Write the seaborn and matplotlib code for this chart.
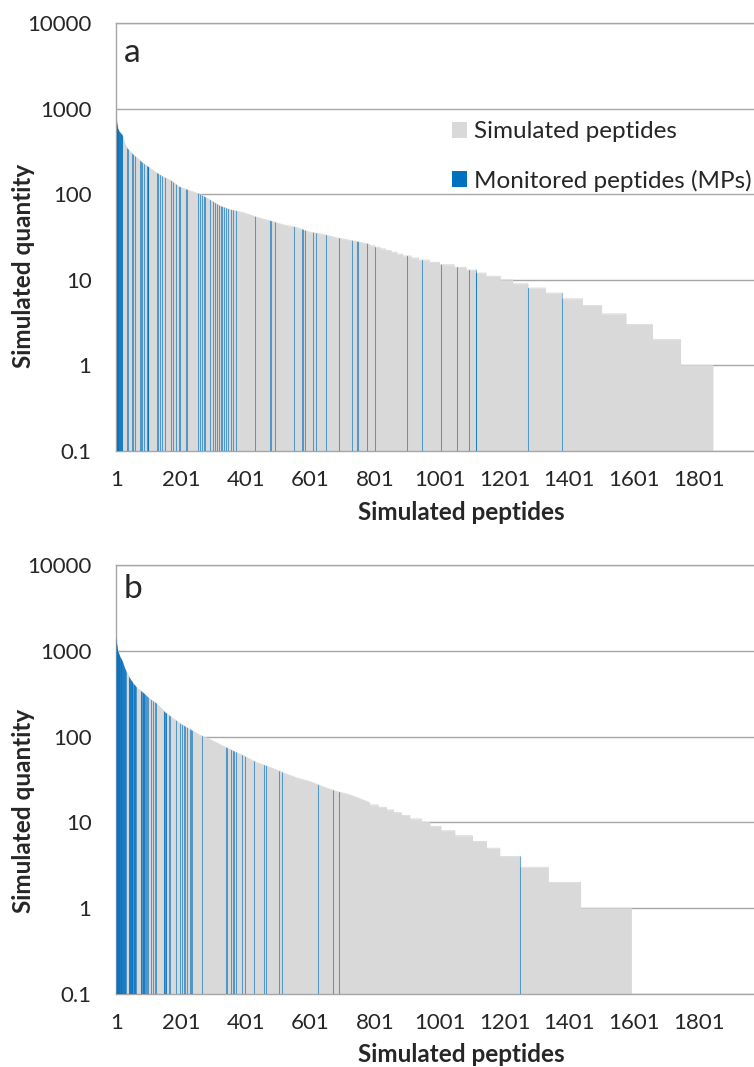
# ranked simulated peptide quantities with monitored peptides highlighted (panels a and b)

import numpy as np
import matplotlib
matplotlib.use("Agg")
import matplotlib.pyplot as plt
from matplotlib.patches import Patch
import seaborn as sns

sns.set_style("white")
plt.rcParams['font.family'] = ['Lato', 'DejaVu Sans']

# DATA (rank, simulated quantity)
# panel a: smooth upper part of the curve
a_curve_rank = [1, 6, 11, 20, 27, 34, 47, 63, 84, 99, 125, 145, 171, 197, 228, 259, 290,
                321, 352, 393, 434, 475, 516, 558, 599, 640, 681, 722, 764, 784]
a_curve_qty = [766, 585, 535, 490, 392, 348, 305, 269, 229, 209, 178, 160, 143, 121, 110, 100, 86,
               73, 66, 61, 54, 49, 44, 41, 36, 34, 31, 29, 27, 26]
# panel a: integer plateaus in the tail (first rank of each plateau)
a_step_qty = [25, 24, 23, 22, 21, 20, 19, 18, 17, 16, 15, 14, 13, 12, 11, 10, 9, 8, 7, 6, 5, 4, 3, 2, 1]
a_step_start = [784, 800, 816, 833, 850, 868, 886, 912, 935, 968, 1000, 1045, 1082, 1114, 1143,
                1188, 1226, 1273, 1327, 1380, 1442, 1501, 1576, 1658, 1745]
a_last = 1845
# panel a: ranks of monitored peptides
a_mp = [2, 3, 4, 5, 6, 7, 9, 10, 12, 13, 15, 16, 18, 19, 34, 37, 49, 53, 58, 73, 76, 80, 87, 96, 98,
        99, 100, 127, 130, 135, 142, 153, 171, 176, 184, 195, 198, 215, 220, 253, 259, 265, 271, 275,
        291, 299, 305, 312, 317, 324, 329, 334, 341, 346, 356, 362, 370, 431, 476, 480, 492, 550, 574,
        578, 585, 609, 617, 648, 690, 731, 745, 749, 777, 802, 899, 946, 1006, 1055, 1091, 1113, 1114,
        1274, 1379]

# panel b
b_curve_rank = [1, 3, 6, 12, 20, 27, 34, 42, 54, 68, 84, 104, 125, 151, 177, 202, 228, 259, 290,
                321, 352, 393, 434, 475, 516, 558, 599, 640, 681, 722, 760, 784]
b_curve_qty = [1480, 1200, 1000, 865, 757, 635, 555, 485, 413, 361, 324, 276, 244, 193, 162, 139, 122,
               104, 93, 81, 71, 60, 50, 44, 38, 33, 30, 26, 23, 21, 18.5, 17]
b_step_qty = [16, 15, 14, 13, 12, 11, 10, 9, 8, 7, 6, 5, 4, 3, 2, 1]
b_step_start = [784, 810, 836, 858, 882, 908, 944, 970, 1004, 1047, 1102, 1145, 1186, 1251, 1336, 1436]
b_last = 1593
b_mp = [1, 2, 3, 4, 5, 6, 7, 8, 9, 10, 11, 12, 14, 15, 16, 18, 19, 21, 22, 24, 25, 27, 28, 30,
        40, 41, 42, 44, 45, 47, 48, 50, 51, 53, 55, 56, 58, 60, 61,
        76, 78, 80, 82, 84, 86, 88, 90, 93, 96, 99,
        107, 113, 121, 125, 147, 149, 152, 154, 156, 164, 168, 184, 198, 203, 209, 213, 218, 228, 231,
        234, 266, 339, 343, 357, 362, 365, 370, 390, 398, 427, 459, 465, 503, 513, 624, 670, 688, 1250]

x_ticks = [1, 201, 401, 601, 801, 1001, 1201, 1401, 1601, 1801]
y_ticks = [0.1, 1, 10, 100, 1000, 10000]
y_tick_labels = ['0.1', '1', '10', '100', '1000', '10000']

GRAY = '#D9D9D9'
BLUE = '#0070C0'
AXIS_GRAY = '#A6A6A6'
FS = 16
FS_LABEL = 17.5

W, H = 754, 1067
def fx(px): return px / W
def fy(py): return 1 - py / H


def outline(curve_rank, curve_qty, step_start, step_qty, last):
    # plateau corners (start, end) for each integer level
    ends = list(step_start[1:]) + [last]
    sx = np.column_stack([step_start, ends]).ravel()
    sy = np.repeat(step_qty, 2)
    return np.concatenate([curve_rank, sx]), np.concatenate([curve_qty, sy]).astype(float)


def draw_panel(ax, x, y, mp):
    poly = ax.fill_between(x, y, 0.1, color=GRAY, lw=0, zorder=2)
    sns.lineplot(x=x, y=y, sort=False, estimator=None, color=GRAY, lw=0.6, ax=ax, zorder=2)
    # MP bars: full-height lines clipped to the grey area so they stop at the curve
    lines = ax.vlines(mp, 0.1, 10000, color=BLUE, lw=0.75, alpha=0.62, zorder=3)
    lines.set_clip_path(poly.get_paths()[0], ax.transData)

    ax.set_yscale('log')
    ax.set_ylim(0.1, 10000)
    ax.set_xlim(1, 1972)
    ax.set_yticks(y_ticks)
    ax.set_yticklabels(y_tick_labels)
    ax.minorticks_off()
    ax.set_xticks(x_ticks)
    ax.set_xticklabels([str(t) for t in x_ticks])
    ax.tick_params(axis='both', which='major', length=5.8, width=1, color=AXIS_GRAY,
                   labelsize=FS, direction='out')
    ax.tick_params(axis='y', pad=12)
    ax.tick_params(axis='x', pad=8)
    ax.set_axisbelow(True)
    ax.yaxis.grid(True, color=AXIS_GRAY, lw=1)
    ax.xaxis.grid(False)
    for side in ['left', 'bottom', 'top']:
        ax.spines[side].set_color(AXIS_GRAY)
        ax.spines[side].set_linewidth(1)
    ax.spines['right'].set_visible(False)
    ax.set_xlabel('')
    ax.set_ylabel('')


fig = plt.figure(figsize=(W / 100, H / 100), dpi=100)
ax_a = fig.add_axes([fx(116.3), fy(451), 1 - fx(116.3), 428 / H])
ax_b = fig.add_axes([fx(116.3), fy(994), 1 - fx(116.3), 429 / H])

xa, ya = outline(a_curve_rank, a_curve_qty, a_step_start, a_step_qty, a_last)
xb, yb = outline(b_curve_rank, b_curve_qty, b_step_start, b_step_qty, b_last)
draw_panel(ax_a, xa, ya, a_mp)
draw_panel(ax_b, xb, yb, b_mp)

# Labeling
for label_y, xlabel_y, letter, letter_y in [(266, 512, 'a', 62), (811, 1054, 'b', 598)]:
    fig.text(fx(24), fy(label_y), 'Simulated quantity', rotation=90, ha='center', va='center',
             fontsize=FS_LABEL, fontweight='bold')
    fig.text(fx(461), fy(xlabel_y), 'Simulated peptides', ha='center', va='center',
             fontsize=FS_LABEL, fontweight='bold')
    fig.text(fx(124), fy(letter_y), letter, ha='left', va='baseline', fontsize=24)

# Legend
handles = [Patch(facecolor=GRAY, edgecolor='none'), Patch(facecolor=BLUE, edgecolor='none')]
ax_a.legend(handles, ['Simulated peptides', 'Monitored peptides (MPs)'],
            loc='center left', bbox_to_anchor=(fx(451.7), fy(156.5)), bbox_transform=fig.transFigure,
            frameon=False, fontsize=FS_LABEL, handlelength=0.62, handleheight=0.62, handletextpad=0.3,
            labelspacing=1.12, borderpad=0, borderaxespad=0)

plt.savefig('out.png', dpi=100)
plt.close()
